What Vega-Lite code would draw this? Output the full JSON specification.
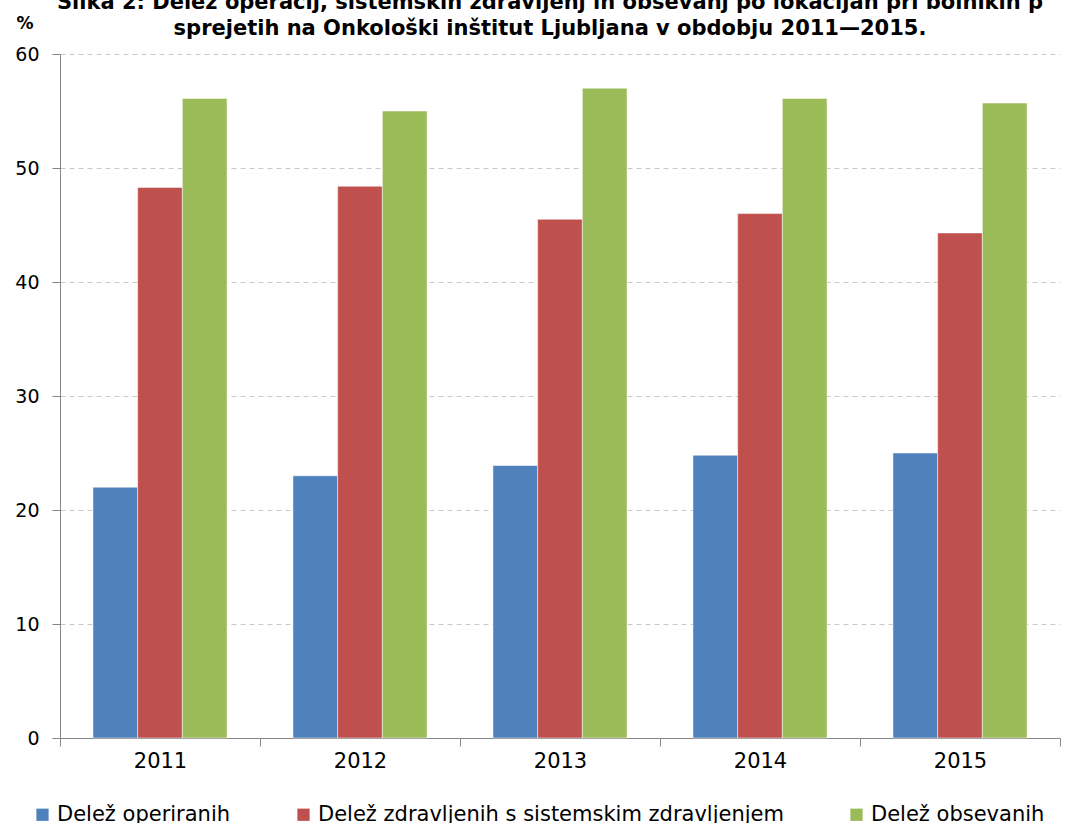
{
  "$schema": "https://vega.github.io/schema/vega-lite/v6.json",
  "autosize": {"type": "none"},
  "padding": {"left": 60, "top": 54, "right": 9, "bottom": 85},
  "width": 1000,
  "height": 684,
  "background": "#ffffff",
  "title": {
    "text": ["Slika 2: Delež operacij, sistemskih zdravljenj in obsevanj po lokacijah pri bolnikih p", "sprejetih na Onkološki inštitut Ljubljana v obdobju 2011—2015."],
    "font": "DejaVu Sans",
    "fontSize": 21,
    "fontWeight": "bold",
    "color": "#000000",
    "anchor": "middle",
    "lineHeight": 26,
    "offset": 0,
    "dy": 25,
    "dx": -10
  },
  "data": {
    "values": [
      {"year": "2011", "series": "Delež operiranih", "value": 22.0},
      {"year": "2011", "series": "Delež zdravljenih s sistemskim zdravljenjem", "value": 48.3},
      {"year": "2011", "series": "Delež obsevanih", "value": 56.1},
      {"year": "2012", "series": "Delež operiranih", "value": 23.0},
      {"year": "2012", "series": "Delež zdravljenih s sistemskim zdravljenjem", "value": 48.4},
      {"year": "2012", "series": "Delež obsevanih", "value": 55.0},
      {"year": "2013", "series": "Delež operiranih", "value": 23.9},
      {"year": "2013", "series": "Delež zdravljenih s sistemskim zdravljenjem", "value": 45.5},
      {"year": "2013", "series": "Delež obsevanih", "value": 57.0},
      {"year": "2014", "series": "Delež operiranih", "value": 24.8},
      {"year": "2014", "series": "Delež zdravljenih s sistemskim zdravljenjem", "value": 46.0},
      {"year": "2014", "series": "Delež obsevanih", "value": 56.1},
      {"year": "2015", "series": "Delež operiranih", "value": 25.0},
      {"year": "2015", "series": "Delež zdravljenih s sistemskim zdravljenjem", "value": 44.3},
      {"year": "2015", "series": "Delež obsevanih", "value": 55.7}
    ]
  },
  "mark": {"type": "bar", "stroke": "#ffffff", "strokeWidth": 0.5},
  "encoding": {
    "x": {
      "field": "year",
      "type": "nominal",
      "scale": {"paddingInner": 0, "paddingOuter": 0},
      "axis": {
        "title": null,
        "labelAngle": 0,
        "labelFont": "DejaVu Sans",
        "labelFontSize": 21,
        "labelColor": "#000000",
        "labelPadding": 4,
        "tickBand": "extent",
        "tickSize": 8,
        "tickColor": "#868686",
        "domainColor": "#868686",
        "grid": false
      }
    },
    "xOffset": {
      "field": "series",
      "type": "nominal",
      "scale": {"domain": ["Delež operiranih", "Delež zdravljenih s sistemskim zdravljenjem", "Delež obsevanih"], "paddingInner": 0, "paddingOuter": 0.737}
    },
    "y": {
      "field": "value",
      "type": "quantitative",
      "scale": {"domain": [0, 60], "nice": false},
      "axis": {
        "title": "%",
        "titleAngle": 0,
        "titleX": -44,
        "titleY": -26,
        "titleAlign": "left",
        "titleBaseline": "alphabetic",
        "titleFont": "DejaVu Sans",
        "titleFontSize": 17,
        "titleFontWeight": "bold",
        "titleColor": "#000000",
        "values": [0, 10, 20, 30, 40, 50, 60],
        "labelFont": "DejaVu Sans",
        "labelFontSize": 19,
        "labelColor": "#000000",
        "labelPadding": 13,
        "tickSize": 8,
        "tickColor": "#868686",
        "domainColor": "#868686",
        "grid": true,
        "gridColor": "#c8c8c8",
        "gridDash": [5, 4],
        "gridWidth": 1
      }
    },
    "color": {
      "field": "series",
      "type": "nominal",
      "scale": {
        "domain": ["Delež operiranih", "Delež zdravljenih s sistemskim zdravljenjem", "Delež obsevanih"],
        "range": ["#4F81BD", "#C0504D", "#9BBB59"]
      },
      "legend": {
        "title": null,
        "orient": "none",
        "direction": "horizontal",
        "legendX": -28,
        "legendY": 750,
        "symbolType": "square",
        "symbolSize": 150,
        "symbolStrokeWidth": 0,
        "labelFont": "DejaVu Sans",
        "labelFontSize": 21,
        "labelColor": "#000000",
        "labelOffset": 4,
        "columnPadding": 62,
        "labelLimit": 700
      }
    }
  },
  "config": {"view": {"stroke": null}}
}
